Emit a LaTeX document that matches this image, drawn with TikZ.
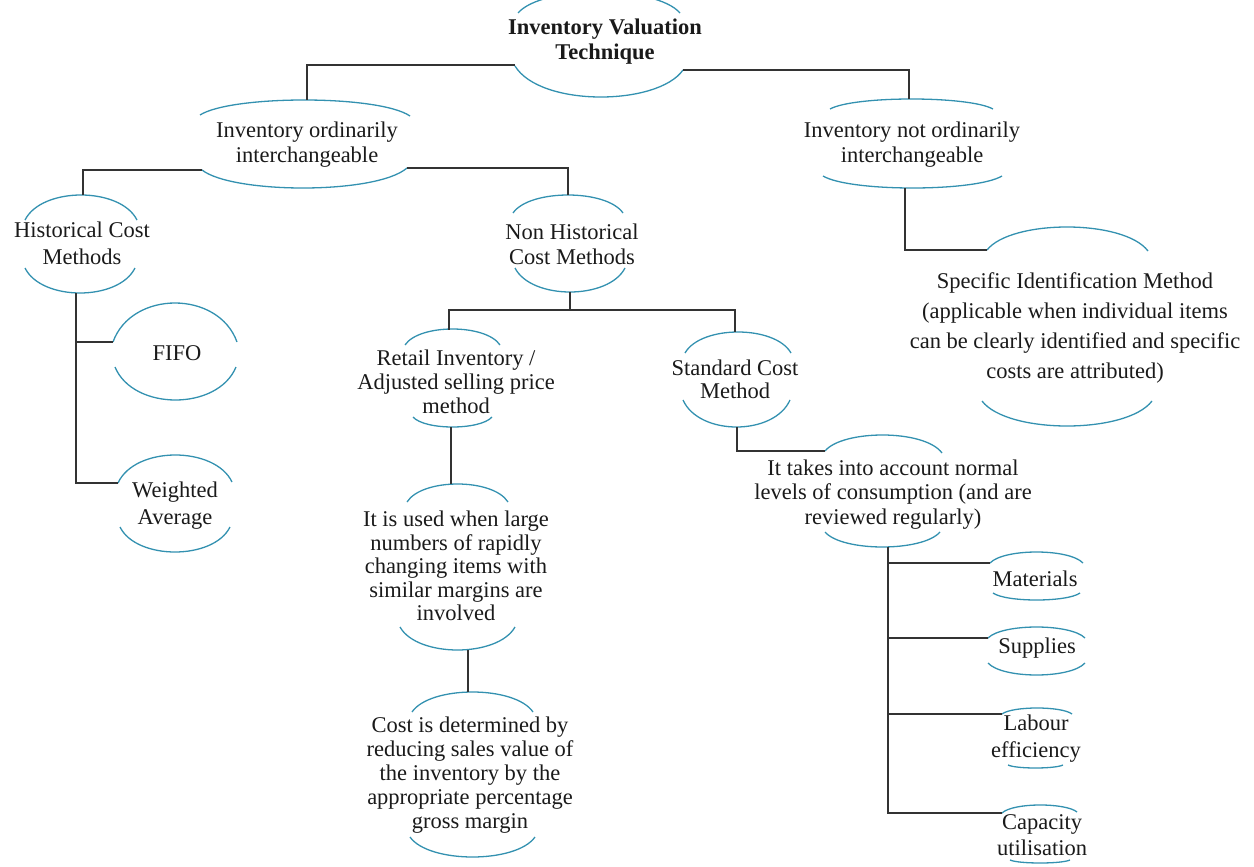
\documentclass[tikz,border=0pt]{standalone}
\usepackage{fontspec}
\setmainfont{Liberation Serif}
\definecolor{arcteal}{HTML}{3391B0}
\definecolor{lnc}{HTML}{333333}
\definecolor{txtc}{HTML}{1A1A1A}
\tikzset{
  txt/.style={align=center, inner sep=0pt, text=txtc, font=\fontsize{22.5}{25}\selectfont},
  txtb/.style={txt, font=\bfseries\fontsize{22.5}{25}\selectfont},
  sp/.style={font=\fontsize{22.5}{#1}\selectfont},
  arcst/.style={draw=arcteal, line width=1.3pt},
  conn/.style={draw=lnc, line width=1.4pt},
}
% arc from (Lx,Ly) to (Rx,Ry) passing through mid y = P
\newcommand\ovarc[5]{%
  \draw[arcst] (#1,#2) .. controls ({#1+0.15*(#4-#1)},{(4*#3-#2)/3}) and ({#4-0.15*(#4-#1)},{(4*#3-#5)/3}) .. (#4,#5);}
\begin{document}
\begin{tikzpicture}[x=1pt,y=-1pt]
\useasboundingbox (0,0) rectangle (1254,867);

% ---------- nodes ----------
\node[txtb] (root) at (605,42) {Inventory Valuation\\Technique};
\ovarc{518}{13}{-8}{680}{13}
\ovarc{515}{66}{97}{683}{70}
\coordinate (rootBL) at (515,65);
\coordinate (rootBR) at (683,70);

\node[txt] (ord) at (307,144.5) {Inventory ordinarily\\interchangeable};
\ovarc{200}{115}{100}{410}{116}
\ovarc{202}{170}{188}{407}{168}
\coordinate (ordT) at (307,100);
\coordinate (ordBL) at (202,170);
\coordinate (ordBR) at (407,168);

\node[txt] (not) at (912,144.5) {Inventory not ordinarily\\interchangeable};
\ovarc{830}{109}{99}{993}{109}
\ovarc{823}{176}{188}{1002}{176}
\coordinate (notT) at (909,99);
\coordinate (notB) at (905,188);

\node[txt, sp=30] (spec) at (1075,328) {Specific Identification Method\\(applicable when individual items\\can be clearly identified and specific\\costs are attributed)};
\ovarc{987}{250}{227}{1148}{251}
\ovarc{982}{401}{426}{1152}{401}
\coordinate (specTL) at (987,250);

\node[txt, sp=27] (hist) at (82,243.5) {Historical Cost\\Methods};
\ovarc{25}{220}{195}{137}{220}
\ovarc{25}{268}{293}{135}{268}
\coordinate (histT) at (83,195);
\coordinate (histB) at (76,293);

\node[txt] (fifo) at (177,353) {FIFO};
\ovarc{113}{342}{303}{237}{342}
\ovarc{115}{367}{400}{236}{367}
\coordinate (fifoL) at (113,342);

\node[txt, sp=27] (wa) at (175,505.5) {Weighted\\Average};
\ovarc{118}{483}{455}{232}{482}
\ovarc{120}{527}{552}{230}{527}
\coordinate (waL) at (118,483);

\node[txt] (nonh) at (572,244.5) {Non Historical\\Cost Methods};
\ovarc{513}{213}{195}{623}{213}
\ovarc{515}{268}{292}{625}{268}
\coordinate (nonhT) at (568,195);
\coordinate (nonhB) at (570,292);
\coordinate (nonhJ) at (570,310);

\node[txt, sp=24] (ret) at (456,382) {Retail Inventory /\\Adjusted selling price\\method};
\ovarc{405}{345}{329}{500}{345}
\ovarc{413}{417}{427}{492}{417}
\coordinate (retT) at (449,330);
\coordinate (retB) at (451,427);

\node[txt, sp=23] (std) at (735,379.5) {Standard Cost\\Method};
\ovarc{685}{353}{332}{791}{353}
\ovarc{683}{400}{427}{790}{400}
\coordinate (stdT) at (735,332);
\coordinate (stdB) at (737,427);

\node[txt, sp=24.5] (takes) at (893,494.5) {It takes into account normal\\levels of consumption (and are\\reviewed regularly)};
\ovarc{825}{451}{435}{942}{453}
\ovarc{825}{532}{547}{940}{532}
\coordinate (takesTL) at (825,451);
\coordinate (takesB) at (888,547);

\node[txt] (mat) at (1035,579) {Materials};
\ovarc{990}{563}{552}{1083}{563}
\ovarc{993}{593}{600}{1080}{593}
\coordinate (matL) at (990,563);

\node[txt] (sup) at (1037,648) {Supplies};
\ovarc{988}{638}{627}{1085}{638}
\ovarc{988}{663}{675}{1085}{663}
\coordinate (supL) at (988,638);

\node[txt, sp=27] (lab) at (1036,738.5) {Labour\\efficiency};
\ovarc{1002}{714}{708}{1072}{714}
\ovarc{1008}{765}{768}{1063}{765}
\coordinate (labL) at (1002,714);

\node[txt, sp=26] (cap) at (1042,835) {Capacity\\utilisation};
\ovarc{1002}{813}{805}{1077}{812}
\ovarc{1010}{860}{863}{1070}{860}
\coordinate (capL) at (1002,813);

\node[txt, sp=23.6] (used) at (456,566) {It is used when large\\numbers of rapidly\\changing items with\\similar margins are\\involved};
\ovarc{407}{502}{484}{508}{502}
\ovarc{400}{627}{650}{515}{627}
\coordinate (usedT) at (451,484);
\coordinate (usedB) at (468,650);

\node[txt, sp=24] (cost) at (470,775) {Cost is determined by\\reducing sales value of\\the inventory by the\\appropriate percentage\\gross margin};
\ovarc{412}{712}{692}{533}{712}
\ovarc{410}{837}{857}{535}{837}
\coordinate (costT) at (468,692);

% ---------- connectors ----------
\draw[conn] (rootBL) -| (ordT);
\draw[conn] (rootBR) -| (notT);
\draw[conn] (ordBL) -| (histT);
\draw[conn] (ordBR) -| (nonhT);
\draw[conn] (notB) |- (specTL);
\draw[conn] (histB) |- (fifoL);
\draw[conn] (histB) |- (waL);
\draw[conn] (nonhB) -- (nonhJ);
\draw[conn] (nonhJ) -| (retT);
\draw[conn] (nonhJ) -| (stdT);
\draw[conn] (retB) -- (usedT);
\draw[conn] (usedB) -- (costT);
\draw[conn] (stdB) |- (takesTL);
\draw[conn] (takesB) |- (matL);
\draw[conn] (takesB) |- (supL);
\draw[conn] (takesB) |- (labL);
\draw[conn] (takesB) |- (capL);
\end{tikzpicture}
\end{document}
